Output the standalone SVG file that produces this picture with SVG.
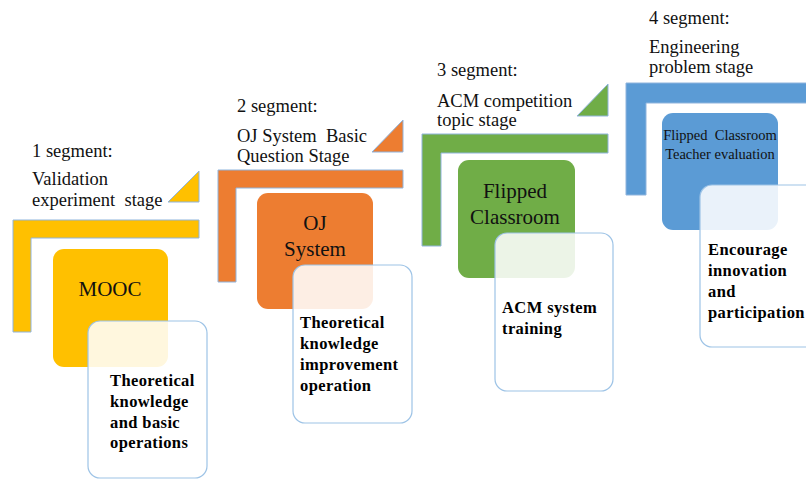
<svg xmlns="http://www.w3.org/2000/svg" width="806" height="479" viewBox="0 0 806 479">
<style>
.frame{stroke:#8FB4DD;stroke-width:1}
.card{fill:#FFFFFF;fill-opacity:0.87;stroke:#9DC3E6;stroke-width:1.2}
.head{font-family:"Liberation Serif","Times New Roman",serif;font-size:18.5px;fill:#111}
.lab{font-family:"Liberation Serif","Times New Roman",serif;font-size:21px;fill:#111;text-anchor:middle}
.small{font-family:"Liberation Serif","Times New Roman",serif;font-size:14.5px;fill:#111;text-anchor:middle}
.bold{font-family:"Liberation Serif","Times New Roman",serif;font-size:16.5px;font-weight:bold;fill:#000;letter-spacing:0.4px}
.y{fill:#FFC000}.o{fill:#ED7D31}.g{fill:#70AD47}.b{fill:#5B9BD5}
</style>
<rect width="806" height="479" fill="#FFFFFF"/>

<g id="segment1">
  <text class="head" x="32" y="157">1 segment:</text>
  <text class="head" x="32" y="185">Validation</text>
  <text class="head" x="32" y="206" xml:space="preserve">experiment  stage</text>
  <polygon class="frame y" points="199,171 199,202 168,202"/>
  <polygon class="frame y" points="13,220 199,220 199,238 31,238 31,332 13,332"/>
  <rect class="y" x="53" y="249" width="115" height="118" rx="11"/>
  <text class="lab" x="110" y="296">MOOC</text>
  <rect class="card" x="88" y="321" width="119" height="157" rx="12"/>
  <text class="bold" x="110" y="386">Theoretical</text>
  <text class="bold" x="110" y="407">knowledge</text>
  <text class="bold" x="110" y="428">and basic</text>
  <text class="bold" x="110" y="448">operations</text>
</g>

<g id="segment2">
  <text class="head" x="237" y="112">2 segment:</text>
  <text class="head" x="237" y="142" xml:space="preserve">OJ System  Basic</text>
  <text class="head" x="237" y="162">Question Stage</text>
  <polygon class="frame o" points="403,120 403,152 372,152"/>
  <polygon class="frame o" points="218,170 403,170 403,188 236,188 236,282 218,282"/>
  <rect class="o" x="257" y="193" width="116" height="116" rx="11"/>
  <text class="lab" x="315" y="230">OJ</text>
  <text class="lab" x="315" y="256">System</text>
  <rect class="card" x="293" y="265" width="119" height="158" rx="12"/>
  <text class="bold" x="300" y="328">Theoretical</text>
  <text class="bold" x="300" y="349">knowledge</text>
  <text class="bold" x="300" y="370">improvement</text>
  <text class="bold" x="300" y="391">operation</text>
</g>

<g id="segment3">
  <text class="head" x="437" y="76">3 segment:</text>
  <text class="head" x="437" y="107">ACM competition</text>
  <text class="head" x="437" y="126">topic stage</text>
  <polygon class="frame g" points="608,84 608,116 577,116"/>
  <polygon class="frame g" points="422,134 608,134 608,153 441,153 441,246 422,246"/>
  <rect class="g" x="458" y="160" width="117" height="118" rx="11"/>
  <text class="lab" x="515" y="198">Flipped</text>
  <text class="lab" x="515" y="224">Classroom</text>
  <rect class="card" x="495" y="233" width="118" height="158" rx="12"/>
  <text class="bold" x="502" y="313">ACM system</text>
  <text class="bold" x="502" y="334">training</text>
</g>

<g id="segment4">
  <text class="head" x="649" y="24">4 segment:</text>
  <text class="head" x="649" y="53">Engineering</text>
  <text class="head" x="649" y="73">problem stage</text>
  <polygon class="frame b" points="626,83 812,83 812,103 646,103 646,195 626,195"/>
  <rect class="b" x="662" y="113" width="116" height="117" rx="11"/>
  <text class="small" x="720" y="140" xml:space="preserve">Flipped  Classroom</text>
  <text class="small" x="720" y="159">Teacher evaluation</text>
  <rect class="card" x="700" y="185" width="120" height="162" rx="12"/>
  <text class="bold" x="708" y="255">Encourage</text>
  <text class="bold" x="708" y="276">innovation</text>
  <text class="bold" x="708" y="297">and</text>
  <text class="bold" x="708" y="318">participation</text>
</g>

<g id="connectors"/>
</svg>
